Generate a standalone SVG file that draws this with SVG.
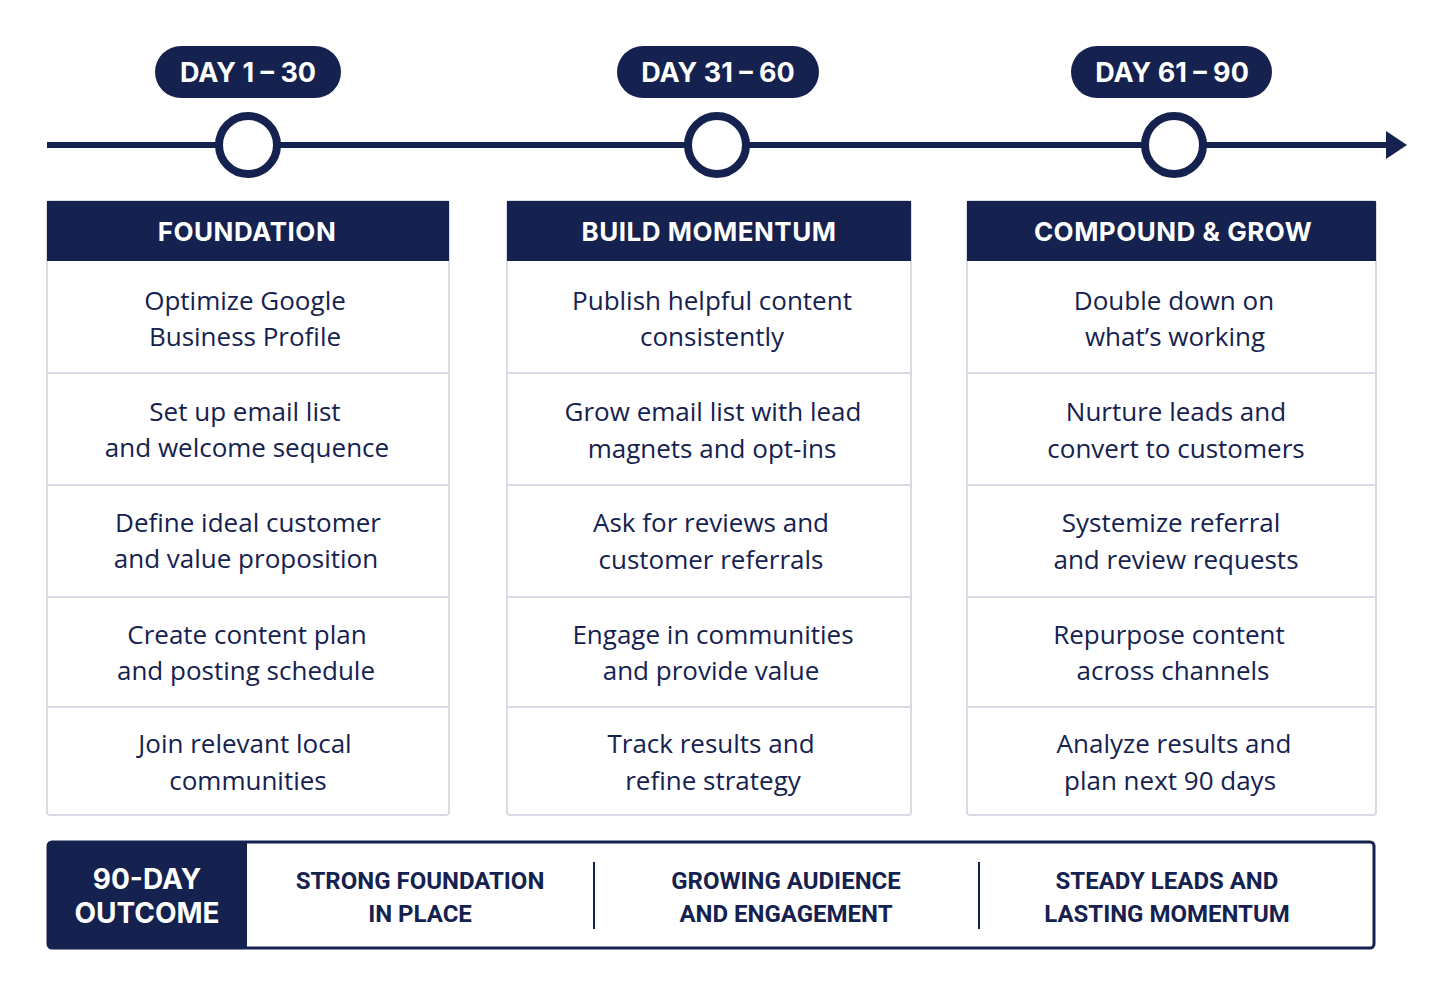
<svg xmlns="http://www.w3.org/2000/svg" width="1454" height="998" viewBox="0 0 1454 998">
<style>
.pill{fill:#15224f}
.pt{font-family:Inter,"Open Sans",sans-serif;font-weight:700;font-size:27px;fill:#fff;text-anchor:middle}
.hd{fill:#15224f}
.ht{font-family:Inter,"Open Sans",sans-serif;font-weight:700;font-size:26px;fill:#fff;text-anchor:middle;letter-spacing:0.5px}
.card{fill:#fff;stroke:#d8dbe5;stroke-width:2}
.sep{stroke:#d8dbe5;stroke-width:2}
.rt{font-family:"Open Sans",Inter,sans-serif;font-size:26px;fill:#15224f;text-anchor:middle}
.ot{font-family:Roboto,"Liberation Sans",sans-serif;font-weight:700;font-size:24px;fill:#15224f;text-anchor:middle}
.ow{font-family:Inter,"Open Sans",sans-serif;font-weight:700;font-size:28px;fill:#fff;text-anchor:middle}
</style>
<defs><marker id="ar" markerWidth="12" markerHeight="12" refX="10" refY="6" orient="auto" markerUnits="userSpaceOnUse"><path d="M0,0 L20,6 L0,12 Z" fill="#15224f" transform="scale(0.6,1)"/></marker></defs>
<rect width="1454" height="998" fill="#fff"/>
<g id="connectors">
<line x1="47" y1="145" x2="1388" y2="145" stroke="#15224f" stroke-width="6"/>
<path d="M1386,131 L1407,145 L1386,159 Z" fill="#15224f"/>
</g>
<g id="m1"><circle cx="248" cy="145" r="29" fill="#fff" stroke="#15224f" stroke-width="8"/><rect class="pill" x="155" y="46" width="186" height="52" rx="26"/><text class="pt" x="248" y="82">DAY 1 – 30</text></g>
<g id="m2"><circle cx="717" cy="145" r="29" fill="#fff" stroke="#15224f" stroke-width="8"/><rect class="pill" x="617" y="46" width="202" height="52" rx="26"/><text class="pt" x="718" y="82">DAY 31 – 60</text></g>
<g id="m3"><circle cx="1174" cy="145" r="29" fill="#fff" stroke="#15224f" stroke-width="8"/><rect class="pill" x="1071" y="46" width="201" height="52" rx="26"/><text class="pt" x="1172" y="82">DAY 61 – 90</text></g>

<g id="col1">
<rect class="card" x="47" y="201" width="402" height="614" rx="3"/>
<rect class="hd" x="47" y="201" width="402" height="60"/>
<text class="ht" x="247" y="241">FOUNDATION</text>
<line class="sep" x1="47" y1="373" x2="449" y2="373"/><line class="sep" x1="47" y1="485" x2="449" y2="485"/><line class="sep" x1="47" y1="597" x2="449" y2="597"/><line class="sep" x1="47" y1="707" x2="449" y2="707"/>
<text class="rt" x="245" y="310">Optimize Google</text><text class="rt" x="245" y="346">Business Profile</text>
<text class="rt" x="245" y="421">Set up email list</text><text class="rt" x="247" y="457">and welcome sequence</text>
<text class="rt" x="248" y="532">Define ideal customer</text><text class="rt" x="246" y="568">and value proposition</text>
<text class="rt" x="247" y="644">Create content plan</text><text class="rt" x="246" y="680">and posting schedule</text>
<text class="rt" x="245" y="753">Join relevant local</text><text class="rt" x="248" y="790">communities</text>
</g>

<g id="col2">
<rect class="card" x="507" y="201" width="404" height="614" rx="3"/>
<rect class="hd" x="507" y="201" width="404" height="60"/>
<text class="ht" x="709" y="241">BUILD MOMENTUM</text>
<line class="sep" x1="507" y1="373" x2="911" y2="373"/><line class="sep" x1="507" y1="485" x2="911" y2="485"/><line class="sep" x1="507" y1="597" x2="911" y2="597"/><line class="sep" x1="507" y1="707" x2="911" y2="707"/>
<text class="rt" x="712" y="310">Publish helpful content</text><text class="rt" x="712" y="346">consistently</text>
<text class="rt" x="713" y="421">Grow email list with lead</text><text class="rt" x="712" y="458">magnets and opt-ins</text>
<text class="rt" x="711" y="532">Ask for reviews and</text><text class="rt" x="711" y="569">customer referrals</text>
<text class="rt" x="713" y="644">Engage in communities</text><text class="rt" x="711" y="680">and provide value</text>
<text class="rt" x="711" y="753">Track results and</text><text class="rt" x="713" y="790">refine strategy</text>
</g>

<g id="col3">
<rect class="card" x="967" y="201" width="409" height="614" rx="3"/>
<rect class="hd" x="967" y="201" width="409" height="60"/>
<text class="ht" x="1173" y="241">COMPOUND &amp; GROW</text>
<line class="sep" x1="967" y1="373" x2="1376" y2="373"/><line class="sep" x1="967" y1="485" x2="1376" y2="485"/><line class="sep" x1="967" y1="597" x2="1376" y2="597"/><line class="sep" x1="967" y1="707" x2="1376" y2="707"/>
<text class="rt" x="1174" y="310">Double down on</text><text class="rt" x="1175" y="346">what’s working</text>
<text class="rt" x="1176" y="421">Nurture leads and</text><text class="rt" x="1176" y="458">convert to customers</text>
<text class="rt" x="1171" y="532">Systemize referral</text><text class="rt" x="1176" y="569">and review requests</text>
<text class="rt" x="1169" y="644">Repurpose content</text><text class="rt" x="1173" y="680">across channels</text>
<text class="rt" x="1174" y="753">Analyze results and</text><text class="rt" x="1170" y="790">plan next 90 days</text>
</g>

<g id="outcome">
<rect x="48" y="842" width="1326" height="106" rx="4" fill="#fff" stroke="#15224f" stroke-width="3"/>
<path d="M52,842 H247 V948 H52 A4,4 0 0 1 48,944 V846 A4,4 0 0 1 52,842 Z" fill="#15224f"/>
<text class="ow" x="147" y="889">90-DAY</text><text class="ow" x="147" y="923">OUTCOME</text>
<line x1="594" y1="862" x2="594" y2="929" stroke="#15224f" stroke-width="2"/>
<line x1="979" y1="862" x2="979" y2="929" stroke="#15224f" stroke-width="2"/>
<text class="ot" x="420" y="889">STRONG FOUNDATION</text><text class="ot" x="420" y="922">IN PLACE</text>
<text class="ot" x="786" y="889">GROWING AUDIENCE</text><text class="ot" x="786" y="922">AND ENGAGEMENT</text>
<text class="ot" x="1167" y="889">STEADY LEADS AND</text><text class="ot" x="1167" y="922">LASTING MOMENTUM</text>
</g>
</svg>
